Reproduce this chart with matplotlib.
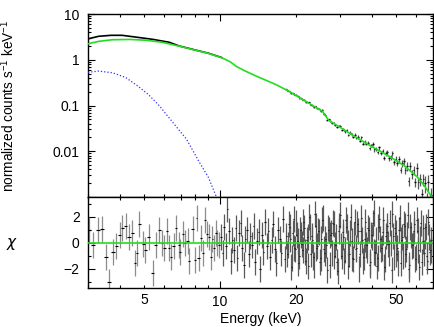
import numpy as np
import matplotlib
matplotlib.use("Agg")
import matplotlib.pyplot as plt
from matplotlib.ticker import LogLocator, FuncFormatter, MultipleLocator

plt.rcParams['font.family'] = ['Liberation Sans', 'DejaVu Sans']
plt.rcParams['mathtext.default'] = 'regular'
plt.rcParams['font.size'] = 10

# model (green), upper envelope of data at low E (black), soft component (blue dots)
mod_e = [3.0, 3.3, 3.75, 4.4, 5.1, 5.9, 6.9, 8.0, 9.0, 10.2, 11.0, 11.6, 12.5, 13.8, 16.6,
         18.7, 21.2, 23.9, 25.5, 27.0, 27.7, 33.2, 39.7, 47.8, 53.9, 60.8, 65.0, 68.6, 70.0]
mod_v = [2.23, 2.52, 2.74, 2.78, 2.67, 2.41, 1.98, 1.62, 1.38, 1.10, 0.90, 0.72, 0.58, 0.45, 0.29,
         0.208, 0.1375, 0.0925, 0.075, 0.0475, 0.0437, 0.0234, 0.0130, 0.0073, 0.0048, 0.0027,
         0.0017, 0.00108, 0.00088]
blk_e = [3.0, 3.3, 3.7, 4.1, 4.7, 5.4, 6.3, 6.9, 8.0, 9.0, 10.2]
blk_v = [2.86, 3.25, 3.42, 3.42, 3.10, 2.80, 2.41, 2.00, 1.63, 1.39, 1.11]
bb_e = [3.0, 3.3, 3.75, 4.23, 4.71, 5.2, 5.76, 6.5, 7.37, 8.3, 9.0, 9.66, 9.9]
bb_v = [0.53, 0.565, 0.52, 0.41, 0.27, 0.175, 0.098, 0.043, 0.0184, 0.0057, 0.0027, 0.00105, 0.0008]

# residual bins
e_lo = [3.04, 3.15, 3.29, 3.40, 3.53, 3.64, 3.76, 3.89, 4.01, 4.11,
        4.23, 4.36, 4.50, 4.60, 4.69, 4.80, 4.96, 5.07, 5.22, 5.42,
        5.56, 5.76, 5.90, 6.03, 6.16, 6.27, 6.41, 6.56, 6.71, 6.86,
        6.97, 7.12, 7.25, 7.45, 7.56, 7.79, 7.96, 8.08, 8.23, 8.41,
        8.59, 8.75, 8.88, 9.07, 9.23, 9.34, 9.49, 9.64, 9.78, 9.93]
chi_lo = [1.0, -0.2, 1.0, 1.05, -1.1, -3.05, -0.75, -0.3, 0.6, 1.1,
          1.25, 0.4, 0.7, -1.6, -0.8, 1.4, -0.1, -0.55, 0.45, -2.35,
          -0.2, 1.0, 0.0, -0.45, 0.9, -0.45, -1.1, -0.3, 1.1, -0.2,
          -0.7, 0.65, 0.0, 0.1, -1.45, 1.05, -1.35, 1.9, -1.2, 0.35,
          -0.8, 1.75, 0.65, 0.45, -1.1, 0.3, -0.45, 0.7, 0.0, -0.2]
e_hi = [10.10, 10.25, 10.41, 10.56, 10.72, 10.88, 11.05, 11.21, 11.38, 11.55,
        11.73, 11.90, 12.08, 12.26, 12.45, 12.63, 12.82, 13.02, 13.21, 13.41,
        13.61, 13.82, 14.02, 14.24, 14.45, 14.67, 14.89, 15.11, 15.34, 15.57,
        15.80, 16.04, 16.28, 16.52, 16.77, 17.02, 17.28, 17.54, 17.80, 18.07,
        18.34, 18.62, 18.89, 19.18, 19.47, 19.76, 20.05, 20.35, 20.66, 20.97,
        21.29, 21.61, 21.93, 22.26, 22.59, 22.93, 23.28, 23.63, 23.98, 24.34,
        24.71, 25.08, 25.45, 25.84, 26.22, 26.62, 27.02, 27.42, 27.83, 28.25,
        28.68, 29.11, 29.54, 29.99, 30.44, 30.89, 31.36, 31.83, 32.31, 32.79,
        33.28, 33.78, 34.29, 34.80, 35.33, 35.86, 36.39, 36.94, 37.50, 38.06,
        38.63, 39.21, 39.80, 40.39, 41.00, 41.61, 42.24, 42.87, 43.52, 44.17,
        44.83, 45.50, 46.19, 46.88, 47.58, 48.30, 49.02, 49.76, 50.50, 51.26,
        52.03, 52.81, 53.60, 54.41, 55.22, 56.05, 56.89, 57.74, 58.61, 59.49,
        60.38, 61.29, 62.21, 63.14, 64.09, 65.05, 66.02, 67.01, 68.02, 69.04]
chi_hi = [0.4, -0.8, 1.2, -0.3, 2.6, 0.9, -1.4, 0.2, -0.6, 1.1,
          -1.2, 0.7, 1.5, -0.4, -1.7, 0.3, 1.0, -0.9, 0.5, -0.2,
          1.3, -1.5, 0.1, 0.8, -2.0, 0.6, -0.7, 1.6, -0.3, 0.9,
          -1.1, 0.2, 1.4, -0.5, -1.6, 1.0, 0.3, -0.8, 1.8, -1.3,
          0.5, -0.2, 1.2, -1.9, 0.7, -0.4, 1.5, 0.1, -1.0, 0.6,
          -0.6, 1.1, -1.4, 0.4, 2.0, -0.9, 0.2, -1.7, 1.3, -0.3,
          0.8, -1.2, 1.7, -0.5, 0.3, -2.1, 1.0, 0.6, -0.8, 1.4,
          -0.2, -1.5, 0.9, 2.1, -1.0, 0.4, -0.6, 1.2, -1.8, 0.7,
          0.1, -1.3, 1.6, -0.4, 0.9, -0.9, 1.9, -1.4, 0.3, -0.2,
          1.1, -1.7, 0.6, 1.5, -0.7, 0.2, -1.2, 1.8, -0.5, 0.8,
          -1.9, 0.5, 1.3, -0.8, 0.0, 2.2, -1.1, 0.7, -0.4, 1.0,
          -1.6, 0.4, 1.4, -0.9, 0.6, -2.0, 1.2, -0.3, 0.9, -1.3,
          1.7, -0.6, 0.3, -1.5, 1.1, 0.5, -1.0, 1.6, -0.7, 0.2]
# finer bins of the second detector, interleaved above 18 keV
e_fine = [18.48, 18.75, 19.03, 19.32, 19.61, 19.90, 20.20, 20.50, 20.81, 21.13,
          21.45, 21.77, 22.09, 22.42, 22.76, 23.10, 23.45, 23.80, 24.16, 24.52,
          24.89, 25.26, 25.64, 26.03, 26.42, 26.82, 27.22, 27.62, 28.04, 28.46,
          28.89, 29.32, 29.76, 30.21, 30.66, 31.12, 31.59, 32.07, 32.55, 33.03,
          33.53, 34.03, 34.54, 35.06, 35.59, 36.12, 36.66, 37.22, 37.78, 38.34,
          38.92, 39.50, 40.09, 40.69, 41.30, 41.92, 42.55, 43.19, 43.84, 44.50,
          45.16, 45.84, 46.53, 47.23, 47.94, 48.66, 49.39, 50.13, 50.88, 51.64,
          52.42, 53.20, 54.00, 54.81, 55.63, 56.47, 57.31, 58.17, 59.05, 59.93,
          60.83, 61.75, 62.67, 63.61, 64.57, 65.53, 66.51, 67.51, 68.53]
chi_fine = [-0.9, 1.4, 0.3, -1.2, 1.8, -0.5, 0.6, -1.6, 1.0, -0.1,
            1.6, -0.7, 0.2, -1.8, 1.2, 0.5, -1.1, 2.2, -0.4, 0.9,
            -1.5, 0.3, 1.9, -0.8, -0.2, 1.1, -1.7, 0.7, 1.5, -1.0,
            0.4, -2.2, 1.3, -0.3, 0.8, -1.4, 1.7, 0.0, -0.9, 2.0,
            -1.2, 0.6, -0.5, 1.4, -2.0, 0.9, 0.2, -1.1, 1.6, -0.6,
            1.0, -1.5, 0.4, 2.3, -0.8, -1.8, 1.2, 0.3, -0.4, 1.7,
            -1.3, 0.8, -0.1, 1.5, -2.1, 0.5, 1.1, -0.9, -1.6, 1.9,
            0.2, -1.0, 1.3, -0.5, 2.1, -1.7, 0.6, -0.2, 1.4, -1.1,
            0.9, -1.9, 1.5, 0.1, -0.8, 1.2, -1.4, 0.4, -0.6]

# data in the upper panel, bins from 18.3 keV on (e_hi[40:])
flux_hi = [0.224, 0.210, 0.206, 0.184, 0.185, 0.172, 0.173, 0.158, 0.145, 0.145,
           0.133, 0.133, 0.118, 0.118, 0.118, 0.1033, 0.1015, 0.0912, 0.0951, 0.0863,
           0.0850, 0.0747, 0.0810, 0.0659, 0.0608, 0.0481, 0.0496, 0.0453, 0.0405, 0.0425,
           0.0377, 0.0338, 0.0359, 0.0359, 0.0294, 0.0305, 0.0273, 0.0289, 0.0229, 0.0255,
           0.0234, 0.0204, 0.0231, 0.0196, 0.0205, 0.0169, 0.0200, 0.0146, 0.0161, 0.0147,
           0.0155, 0.0117, 0.0135, 0.0142, 0.01094, 0.01146, 0.00944, 0.01209, 0.00929, 0.01009,
           0.00722, 0.00907, 0.00950, 0.00695, 0.00742, 0.00905, 0.00573, 0.00692, 0.00561, 0.00669,
           0.00395, 0.00550, 0.00605, 0.00389, 0.00484, 0.00223, 0.00468, 0.00322, 0.00385, 0.00213,
           0.00420, 0.00209, 0.00251, 0.00114, 0.00250, 0.00203, 0.000895, 0.00216, 0.000835, 0.00110]
relerr_hi = ([0.02] * 6 + [0.03] * 15 + [0.045] * 13 + [0.06] * 10 + [0.08] * 9 +
             [0.10] * 8 + [0.13] * 7 + [0.17] * 6 + [0.22] * 6 + [0.3] * 5 + [0.4] * 5)

green = '#22dd22'

e_all = np.array(e_lo + e_hi + e_fine)
chi_all = np.array(chi_lo + chi_hi + chi_fine)
order = np.argsort(e_all)
e_all, chi_all = e_all[order], chi_all[order]
half_all = np.gradient(e_all) / 2
low = e_all < 10

e_top = np.array(e_hi[40:])
f_top = np.array(flux_hi)
half_top = np.gradient(np.array(e_hi))[40:] / 2
yerr_top = f_top * np.array(relerr_hi)

fig = plt.figure(figsize=(4.34, 3.27), dpi=100)
ax = fig.add_axes([88 / 434, 1 - 197 / 327, 345 / 434, 183 / 327])
axr = fig.add_axes([88 / 434, 1 - 288 / 327, 345 / 434, 91 / 327], sharex=ax)

# upper panel
ax.errorbar(e_top, f_top, yerr=yerr_top, fmt='none', ecolor='0.35', elinewidth=0.9, zorder=2)
ax.errorbar(e_top, f_top, xerr=half_top, fmt='none', ecolor='k', elinewidth=0.9, zorder=3)
ax.plot(blk_e, blk_v, color='k', lw=1.2, zorder=3)
ax.plot(mod_e, mod_v, color=green, lw=1.2, zorder=4)
ax.plot(bb_e, bb_v, color='#3030ff', lw=0.9, ls=(0, (1, 1.6)), zorder=4)
ax.set_xscale('log')
ax.set_yscale('log')
ax.set_xlim(3, 70)
ax.set_ylim(1e-3, 10)

# residuals
axr.errorbar(e_all[low], chi_all[low], yerr=1, fmt='none', ecolor='0.55', elinewidth=0.9, zorder=2)
axr.errorbar(e_all[~low], chi_all[~low], yerr=1, fmt='none', ecolor='0.35', elinewidth=0.9, zorder=2)
axr.errorbar(e_all, chi_all, xerr=half_all, fmt='none', ecolor='k', elinewidth=0.8, zorder=3)
axr.axhline(0, color=green, lw=1.2, zorder=5)
axr.set_ylim(-3.5, 3.5)

xlab = FuncFormatter(lambda v, p: '%g' % v if int(round(v)) in (5, 10, 20, 50) else '')
for a in (ax, axr):
    a.xaxis.set_major_locator(LogLocator(base=10))
    a.xaxis.set_minor_locator(LogLocator(base=10, subs=np.arange(2, 10)))
    a.tick_params(which='both', direction='in', top=True, right=True, width=0.8)
    a.tick_params(which='major', length=5)
    a.tick_params(which='minor', length=2.5)
    a.tick_params(axis='y', pad=6)
    a.tick_params(axis='x', pad=5)
    for s in a.spines.values():
        s.set_linewidth(1.0)

ax.yaxis.set_major_locator(LogLocator(base=10, numticks=10))
ax.yaxis.set_minor_locator(LogLocator(base=10, subs=np.arange(2, 10), numticks=10))
ax.yaxis.set_major_formatter(FuncFormatter(lambda v, p: '%g' % v if v > 0.005 else ''))
ax.tick_params(axis='x', which='both', labelbottom=False)

axr.xaxis.set_major_formatter(xlab)
axr.xaxis.set_minor_formatter(xlab)
axr.yaxis.set_major_locator(MultipleLocator(2))
axr.yaxis.set_minor_locator(MultipleLocator(1))

ax.set_ylabel('normalized counts s$^{-1}$ keV$^{-1}$', va='center', fontsize=9.8)
ax.yaxis.set_label_coords(-0.232, 0.5)
axr.set_ylabel('χ', rotation=0, ha='center', va='center', family='DejaVu Sans',
               fontstyle='italic', fontsize=11)
axr.yaxis.set_label_coords(-0.223, 0.5)
axr.set_xlabel('Energy (keV)', labelpad=2)

fig.savefig('out.png', dpi=100)
